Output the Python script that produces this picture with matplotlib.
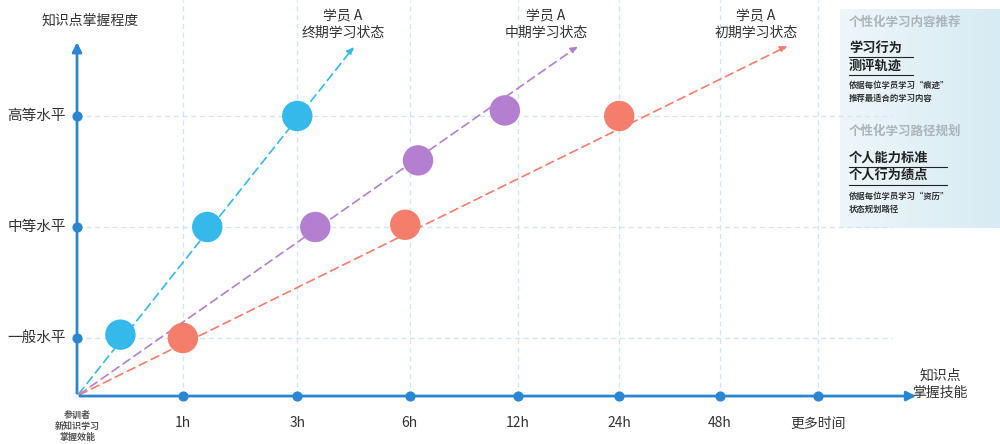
import matplotlib.pyplot as plt
import numpy as np

plt.rcParams['font.family'] = ['Noto Sans CJK SC', 'DejaVu Sans']

x_ticks = ["1h", "3h", "6h", "12h", "24h", "48h", "更多时间"]
y_levels = ["一般水平", "中等水平", "高等水平"]

cyan_x = [0.41, 1.23, 2.08]
cyan_y = [1.03, 2.0, 3.0]
purple_x = [2.25, 3.22, 4.04]
purple_y = [2.0, 2.6, 3.05]
orange_x = [1.0, 3.1, 5.12]
orange_y = [1.0, 2.02, 3.0]

line_end_x = [2.63, 4.75, 6.73]
series_labels = ["学员 A\n终期学习状态", "学员 A\n中期学习状态", "学员 A\n初期学习状态"]
label_x = [2.51, 4.43, 6.41]

CYAN, PURPLE, ORANGE = "#35b8ea", "#b47fd0", "#f57d6b"
AXIS = "#2a86d1"

fig = plt.figure(figsize=(10, 4.44), dpi=100)
ax = fig.add_axes([0, 0, 1, 1])
ax.set_xlim(-77 / 105.9, 923 / 105.9)
ax.set_ylim(0.045, 4.045)
ax.axis("off")

x0, y0 = 0.0, 0.477
ytop = 3.64
tick_x = np.array([1, 2.08, 3.14, 4.16, 5.12, 6.07, 7.0])

# grid
for tx in tick_x:
    ax.plot([tx, tx], [y0, 4.045], ls=(0, (4, 3)), color="#cde6f5", lw=0.9, zorder=1)
for i, _ in enumerate(y_levels):
    ax.plot([x0, 7.7], [i + 1, i + 1], ls=(0, (4, 3)), color="#cde6f5", lw=0.9, zorder=1)

# axes with arrows
ax.annotate("", xy=(7.95, y0), xytext=(x0, y0),
            arrowprops=dict(arrowstyle="-|>", color=AXIS, lw=2, mutation_scale=14))
ax.annotate("", xy=(x0, ytop + 0.05), xytext=(x0, y0),
            arrowprops=dict(arrowstyle="-|>", color=AXIS, lw=2, mutation_scale=14))
ax.scatter(tick_x, [y0] * len(tick_x), s=40, color=AXIS, zorder=4)
ax.scatter([x0] * 3, [1, 2, 3], s=40, color=AXIS, zorder=4)
for tx, lab in zip(tick_x, x_ticks):
    ax.text(tx, 0.23, lab, ha="center", va="center", fontsize=10, color="#333333")
for i, lab in enumerate(y_levels):
    ax.text(-0.38, i + 1, lab, ha="center", va="center", fontsize=10.5, color="#333333")
ax.text(0.12, 3.86, "知识点掌握程度", ha="center", va="center", fontsize=10, color="#333333")
ax.text(8.15, 0.58, "知识点\n掌握技能", ha="center", va="center", fontsize=10, color="#333333", linespacing=1.3)
ax.text(0.0, 0.2, "参训者\n新知识学习\n掌握效能", ha="center", va="center", fontsize=6.5,
        color="#555555", fontweight="bold", linespacing=1.25)

# trend lines and points
for xs, ys, c, ex, lab, lx in zip([cyan_x, purple_x, orange_x], [cyan_y, purple_y, orange_y],
                                  [CYAN, PURPLE, ORANGE], line_end_x, series_labels, label_x):
    ax.annotate("", xy=(ex, ytop), xytext=(x0, y0),
                arrowprops=dict(arrowstyle="-|>", color=c, lw=1.2, ls=(0, (5, 3)), mutation_scale=10),
                zorder=2)
    ax.scatter(xs, ys, s=480, color=c, zorder=3, edgecolors="none")
    ax.text(lx, 3.82, lab, ha="center", va="center", fontsize=10, color="#333333", linespacing=1.2)

# right panel
grad = np.linspace(0, 1, 100).reshape(1, -1)
ax.imshow(grad, extent=(763 / 105.9, 8.716, 1.0 + (338 - 228) / 111, 1.0 + (338 - 10) / 111),
          cmap=plt.matplotlib.colors.LinearSegmentedColormap.from_list("p", ["#eef6fa", "#d6ebf3"]),
          aspect="auto", zorder=0)
px = lambda v: (v - 77) / 105.9
py = lambda v: 1 + (338 - v) / 111
ax.text(px(849), py(22), "个性化学习内容推荐", fontsize=9, color="#aab4ba", fontweight="bold", va="center")
ax.text(px(849), py(48), "学习行为", fontsize=9.5, color="#222222", fontweight="bold", va="center")
ax.text(px(849), py(66), "测评轨迹", fontsize=9.5, color="#222222", fontweight="bold", va="center")
ax.plot([px(849), px(913)], [py(57), py(57)], color="#222222", lw=0.8)
ax.plot([px(849), px(913)], [py(75), py(75)], color="#222222", lw=0.8)
ax.text(px(849), py(85), "依据每位学员学习\u201c痕迹\u201d", fontsize=6, color="#333333", fontweight="bold", va="center")
ax.text(px(849), py(98), "推荐最适合的学习内容", fontsize=6, color="#333333", fontweight="bold", va="center")
ax.text(px(849), py(131), "个性化学习路径规划", fontsize=9, color="#aab4ba", fontweight="bold", va="center")
ax.text(px(849), py(158), "个人能力标准", fontsize=9.5, color="#222222", fontweight="bold", va="center")
ax.text(px(849), py(176), "个人行为绩点", fontsize=9.5, color="#222222", fontweight="bold", va="center")
ax.plot([px(849), px(947)], [py(167), py(167)], color="#222222", lw=0.8)
ax.plot([px(849), px(947)], [py(185), py(185)], color="#222222", lw=0.8)
ax.text(px(849), py(196), "依据每位学员学习\u201c资历\u201d", fontsize=6, color="#333333", fontweight="bold", va="center")
ax.text(px(849), py(209), "状态规划路径", fontsize=6, color="#333333", fontweight="bold", va="center")

fig.savefig("out.png", dpi=100, facecolor="white")
